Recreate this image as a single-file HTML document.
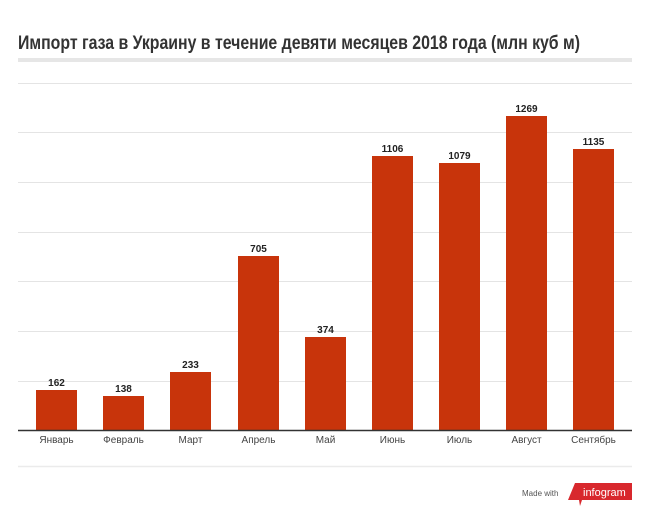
<!DOCTYPE html>
<html><head><meta charset="utf-8"><style>
body{margin:0;background:#fff;width:650px;height:523px;overflow:hidden}
</style></head><body>
<svg width="650" height="523" xmlns="http://www.w3.org/2000/svg" font-family="Liberation Sans, sans-serif">
<text x="18" y="49" font-size="19" font-weight="bold" fill="#333" textLength="562" lengthAdjust="spacingAndGlyphs">Импорт газа в Украину в течение девяти месяцев 2018 года (млн куб м)</text>
<rect x="18" y="58" width="614" height="4" fill="#e6e6e6"/>
<g stroke="#e4e4e4" stroke-width="1">
<line x1="18" x2="632" y1="83.5" y2="83.5"/><line x1="18" x2="632" y1="132.5" y2="132.5"/>
<line x1="18" x2="632" y1="182.5" y2="182.5"/><line x1="18" x2="632" y1="232.5" y2="232.5"/>
<line x1="18" x2="632" y1="281.5" y2="281.5"/><line x1="18" x2="632" y1="331.5" y2="331.5"/>
<line x1="18" x2="632" y1="381.5" y2="381.5"/>
<line x1="18" x2="632" y1="466.5" y2="466.5" stroke="#ebebeb" stroke-width="1.5"/>
</g>
<g fill="#c8340b">
<rect x="36" y="390" width="41" height="40"/>
<rect x="103" y="396" width="41" height="34"/>
<rect x="170" y="372" width="41" height="58"/>
<rect x="238" y="256" width="41" height="174"/>
<rect x="305" y="337" width="41" height="93"/>
<rect x="372" y="156" width="41" height="274"/>
<rect x="439" y="163" width="41" height="267"/>
<rect x="506" y="116" width="41" height="314"/>
<rect x="573" y="149" width="41" height="281"/>
</g>
<line x1="18" x2="632" y1="430.5" y2="430.5" stroke="#333" stroke-width="1.5"/>
<g font-size="10" font-weight="bold" fill="#222" text-anchor="middle">
<text x="56.5" y="386">162</text><text x="123.5" y="392">138</text><text x="190.5" y="368">233</text>
<text x="258.5" y="252">705</text><text x="325.5" y="333">374</text><text x="392.5" y="152">1106</text>
<text x="459.5" y="159">1079</text><text x="526.5" y="112">1269</text><text x="593.5" y="145">1135</text>
</g>
<g font-size="10" fill="#444" text-anchor="middle">
<text x="56.5" y="443">Январь</text><text x="123.5" y="443">Февраль</text><text x="190.5" y="443">Март</text>
<text x="258.5" y="443">Апрель</text><text x="325.5" y="443">Май</text><text x="392.5" y="443">Июнь</text>
<text x="459.5" y="443">Июль</text><text x="526.5" y="443">Август</text><text x="593.5" y="443">Сентябрь</text>
</g>
<text x="522" y="496" font-size="8" fill="#555">Made with</text>
<polygon points="575,483 632,483 632,500 582,500 580,506 579,500 568,500" fill="#d8282d"/>
<text x="583" y="496" font-size="11" fill="#fff">infogram</text>
</svg>
</body></html>
